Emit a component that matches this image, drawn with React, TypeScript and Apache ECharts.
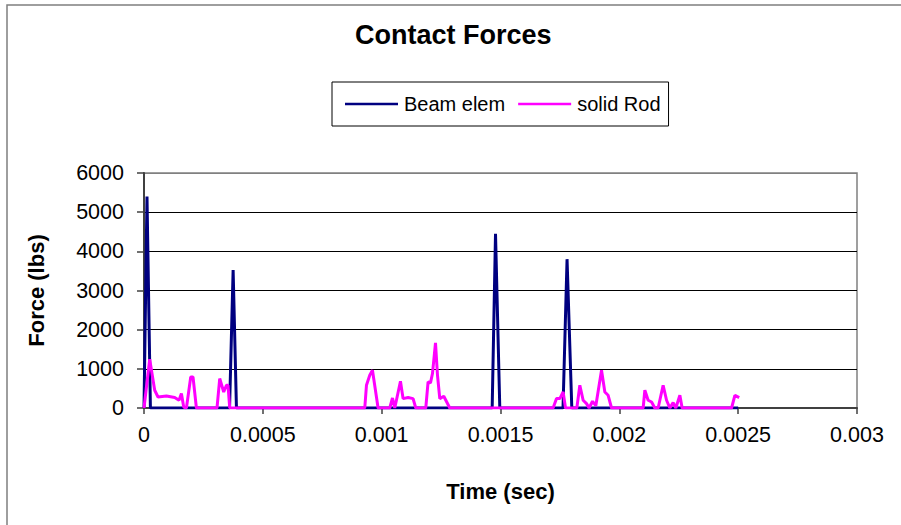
import React, { useEffect, useRef } from "react";
import * as echarts from "echarts";

const titleText = "Contact Forces";
const seriesNames = ["Beam elem", "solid Rod"];
const xAxisTitle = "Time (sec)";
const yAxisTitle = "Force (lbs)";

const xMin = 0;
const xMax = 0.003;
const xStep = 0.0005;
const yMin = 0;
const yMax = 6000;
const yStep = 1000;

// Beam elem (navy)
const beamTime = [
  0, 0.0000126, 0.000027, 0.00036, 0.000375, 0.000389, 0.001465, 0.001479,
  0.001497, 0.001763, 0.00178, 0.0018, 0.0025,
];
const beamForce = [0, 5400, 0, 0, 3520, 0, 0, 4450, 0, 0, 3800, 0, 0];

// solid Rod (magenta)
const rodTime = [
  0, 0.000024, 0.000045, 0.0000589, 0.0000943, 0.0001292, 0.0001473, 0.0001574,
  0.0001671, 0.0001785, 0.0001966, 0.0002062, 0.0002205, 0.0003072, 0.0003186,
  0.0003354, 0.0003468, 0.0003535, 0.0003607, 0.0009289, 0.000936, 0.0009499,
  0.0009613, 0.0009849, 0.0010341, 0.0010455, 0.0010551, 0.0010791, 0.0010901,
  0.0011111, 0.0011322, 0.0011435, 0.0011856, 0.0011953, 0.0012054, 0.0012138,
  0.0012265, 0.0012349, 0.0012445, 0.0012614, 0.0012866, 0.0017214, 0.0017357,
  0.0017496, 0.0017635, 0.0017736, 0.0018212, 0.0018338, 0.0018477, 0.001862,
  0.0018729, 0.0018872, 0.0019011, 0.0019251, 0.001939, 0.0019529, 0.0019672,
  0.0021002, 0.0021074, 0.0021212, 0.0021356, 0.0021494, 0.0021633, 0.0021843,
  0.0021987, 0.0022126, 0.0022264, 0.0022378, 0.0022547, 0.0022643, 0.0024723,
  0.0024862, 0.0025043,
];
const rodForce = [
  0, 1245, 453, 281, 307, 266, 197, 368, 25, 0, 793, 793, 0, 0, 752, 409, 580,
  580, 0, 0, 580, 836, 964, 0, 0, 256, 0, 683, 240, 266, 240, 0, 0, 665, 640,
  880, 1662, 836, 240, 300, 0, 0, 240, 240, 409, 0, 0, 580, 197, 112, 0, 171, 60,
  964, 409, 325, 0, 0, 453, 197, 153, 0, 0, 580, 197, 0, 138, 0, 325, 0, 0, 325,
  266,
];

const FONT = "'Liberation Sans', Arial, sans-serif";

function zip(xs: number[], ys: number[]) {
  return xs.map((x, i) => [x, ys[i]]);
}

export default function App() {
  const ref = useRef<HTMLDivElement>(null);

  useEffect(() => {
    if (!ref.current) return;
    const chart = echarts.init(ref.current, null, { renderer: "svg" });
    const nSplit = Math.round((yMax - yMin) / yStep) + 1;
    const splitColors = Array.from({ length: nSplit }, (_, i) =>
      i === nSplit - 1 ? "#808080" : "#000000"
    );
    chart.setOption({
      animation: false,
      backgroundColor: "#ffffff",
      textStyle: { fontFamily: FONT },
      graphic: [
        {
          type: "rect",
          shape: { x: 7, y: 5, width: 1000, height: 700 },
          style: { fill: "none", stroke: "#7f7f7f", lineWidth: 1.5 },
          silent: true,
        },
      ],
      title: {
        text: titleText,
        left: 355,
        top: 21,
        padding: 0,
        textStyle: {
          fontFamily: FONT,
          fontSize: 27,
          fontWeight: "bold",
          color: "#000",
        },
      },
      legend: {
        left: 332,
        top: 82,
        padding: [12, 8, 12, 13],
        icon: "rect",
        itemWidth: 53,
        itemHeight: 2.5,
        itemGap: 13,
        borderColor: "#000",
        borderWidth: 1,
        textStyle: { fontFamily: FONT, fontSize: 20, color: "#000", padding: [0, 0, 0, 1] },
        data: seriesNames,
      },
      grid: {
        left: 144,
        top: 173,
        right: 44,
        bottom: 117,
        show: true,
        borderColor: "#808080",
        borderWidth: 1.5,
      },
      xAxis: {
        type: "value",
        min: xMin,
        max: xMax,
        interval: xStep,
        name: xAxisTitle,
        nameLocation: "middle",
        nameGap: 72,
        nameTextStyle: {
          fontFamily: FONT,
          fontSize: 22,
          fontWeight: "bold",
          color: "#000",
        },
        axisLine: { lineStyle: { color: "#404040", width: 2 } },
        axisTick: { show: true, length: 6, lineStyle: { color: "#404040", width: 1.5 } },
        axisLabel: {
          margin: 16,
          fontFamily: FONT,
          fontSize: 21.5,
          color: "#000",
          formatter: (v: number) => String(Number(v.toPrecision(4))),
        },
        splitLine: { show: false },
      },
      yAxis: {
        type: "value",
        min: yMin,
        max: yMax,
        interval: yStep,
        name: yAxisTitle,
        nameLocation: "middle",
        nameGap: 97,
        nameTextStyle: {
          fontFamily: FONT,
          fontSize: 22,
          fontWeight: "bold",
          color: "#000",
        },
        axisLine: { show: true, lineStyle: { color: "#404040", width: 2 } },
        axisTick: { show: true, length: 7, lineStyle: { color: "#404040", width: 1.5 } },
        axisLabel: {
          margin: 20,
          fontFamily: FONT,
          fontSize: 21.5,
          color: "#000",
          formatter: (v: number) => String(v),
        },
        splitLine: { show: true, lineStyle: { color: splitColors, width: 1.2 } },
      },
      series: [
        {
          name: seriesNames[0],
          type: "line",
          data: zip(beamTime, beamForce),
          symbol: "none",
          lineStyle: { color: "#000080", width: 3 },
          itemStyle: { color: "#000080" },
          z: 2,
        },
        {
          name: seriesNames[1],
          type: "line",
          data: zip(rodTime, rodForce),
          symbol: "none",
          lineStyle: { color: "#ff00ff", width: 3 },
          itemStyle: { color: "#ff00ff" },
          z: 3,
        },
      ],
    });
    return () => chart.dispose();
  }, []);

  return (
    <div
      ref={ref}
      style={{ position: "fixed", left: 0, top: 0, width: 901, height: 525 }}
    />
  );
}
